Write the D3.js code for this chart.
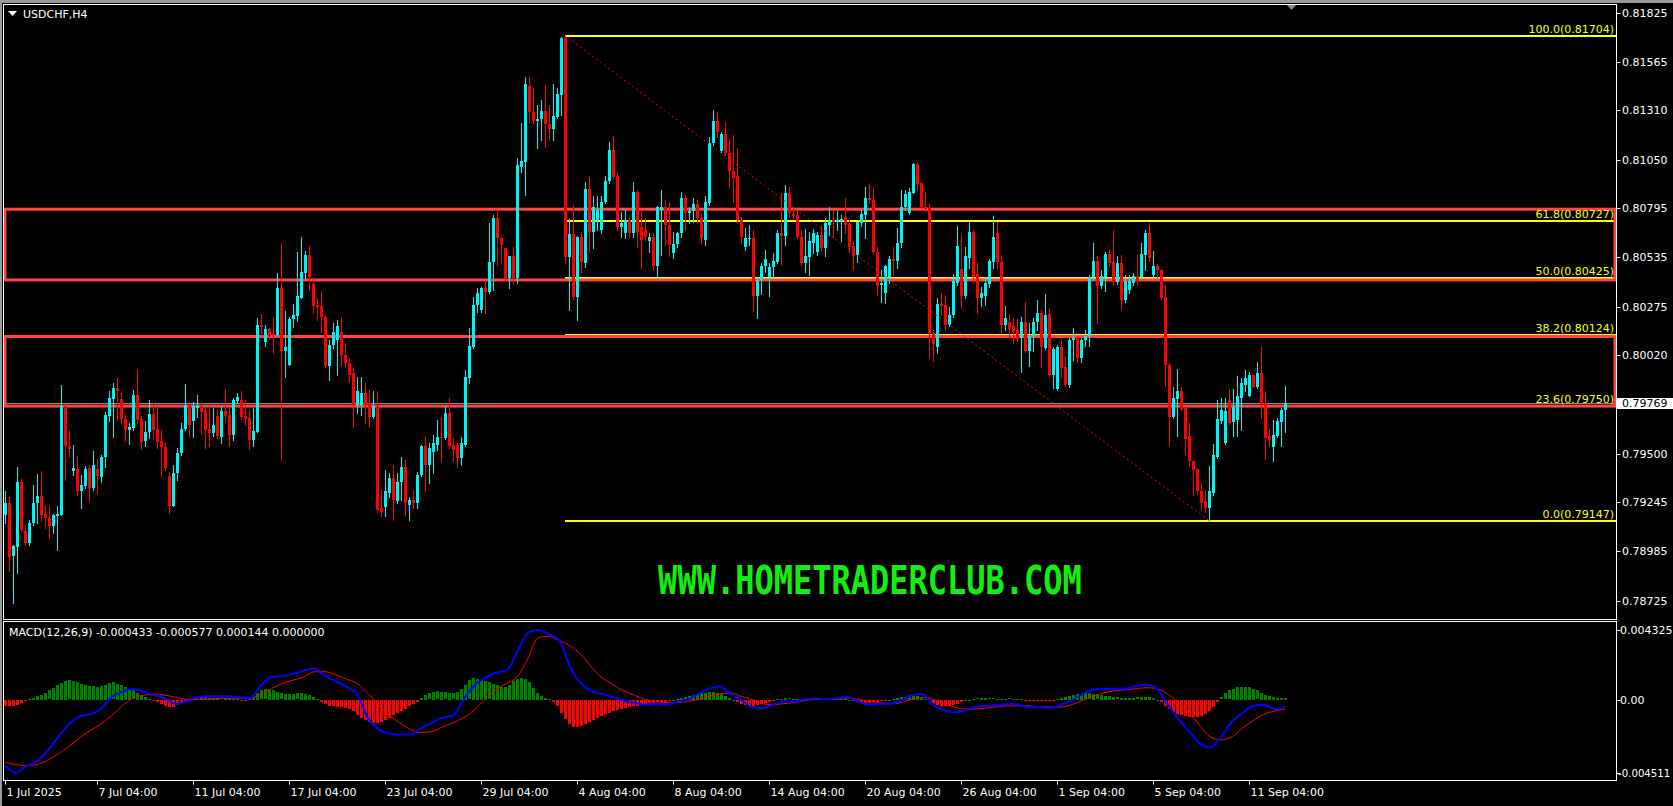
<!DOCTYPE html>
<html><head><meta charset="utf-8">
<script src="https://cdn.jsdelivr.net/npm/d3@7"></script>
<style>
html,body{margin:0;padding:0;background:#000;overflow:hidden}
svg{display:block}
text{font-family:"DejaVu Sans",sans-serif;font-size:11px}
</style>
</head><body>
<svg id="c" width="1673" height="806"></svg>
<script>
// ---------------- DATA ----------------
const symbolTitle = "USDCHF,H4";
const openP = [
0.79178,0.79239,0.78962,0.79007,0.79350,0.79093,0.79028,0.79134,0.79239,0.79278,
0.79183,0.79160,0.79120,0.79173,0.79178,0.79749,0.79541,0.79411,0.79420,0.79301,
0.79332,0.79427,0.79318,0.79420,0.79375,0.79480,0.79701,0.79789,0.79847,0.79789,
0.79684,0.79626,0.79638,0.79810,0.79684,0.79568,0.79613,0.79710,0.79629,0.79568,
0.79535,0.79380,0.79225,0.79397,0.79503,0.79631,0.79763,0.79675,0.79740,0.79749,
0.79726,0.79631,0.79608,0.79700,0.79587,0.79726,0.79705,0.79599,0.79779,0.79784,
0.79700,0.79687,0.79573,0.79617,0.80179,0.80091,0.80158,0.80130,0.80127,0.80373,
0.80039,0.79968,0.80209,0.80227,0.80323,0.80452,0.80548,0.80394,0.80285,0.80279,
0.80220,0.79960,0.80074,0.80100,0.80139,0.80021,0.79977,0.79924,0.79757,0.79757,
0.79819,0.79766,0.79696,0.79752,0.79213,0.79221,0.79292,0.79371,0.79248,0.79353,
0.79432,0.79230,0.79257,0.79239,0.79388,0.79538,0.79441,0.79511,0.79546,0.79590,
0.79582,0.79713,0.79546,0.79546,0.79476,0.79546,0.79898,0.80065,0.80284,0.80258,
0.80376,0.80355,0.80509,0.80741,0.80639,0.80583,0.80425,0.80544,0.80425,0.81014,
0.81040,0.81440,0.81304,0.81256,0.81263,0.81309,0.81239,0.81214,0.81274,0.81391,
0.81699,0.80539,0.80659,0.80328,0.80641,0.80508,0.80894,0.80671,0.80733,0.80680,
0.80829,0.80940,0.81101,0.80966,0.80697,0.80666,0.80733,0.80662,0.80878,0.80697,
0.80680,0.80624,0.80645,0.80487,0.80785,0.80800,0.80706,0.80557,0.80606,0.80666,
0.80850,0.80768,0.80782,0.80817,0.80742,0.80627,0.80821,0.81137,0.81255,0.81096,
0.81186,0.81084,0.80988,0.80965,0.80733,0.80592,0.80633,0.80636,0.80329,0.80417,
0.80490,0.80434,0.80482,0.80513,0.80663,0.80648,0.80870,0.80764,0.80759,0.80645,
0.80508,0.80536,0.80613,0.80561,0.80654,0.80583,0.80706,0.80733,0.80719,0.80724,
0.80750,0.80712,0.80596,0.80548,0.80715,0.80759,0.80850,0.80835,0.80561,0.80387,
0.80346,0.80434,0.80525,0.80518,0.80610,0.80803,0.80771,0.80877,0.81028,0.80926,
0.80800,0.80794,0.80135,0.80060,0.80290,0.80285,0.80179,0.80232,0.80399,0.80473,
0.80332,0.80531,0.80671,0.80448,0.80320,0.80332,0.80396,0.80513,0.80666,0.80513,
0.80179,0.80192,0.80171,0.80150,0.80109,0.80195,0.80039,0.80118,0.80192,0.80241,
0.80056,0.80237,0.79916,0.79840,0.80065,0.79956,0.79863,0.80097,0.80109,0.80007,
0.80100,0.80118,0.80431,0.80518,0.80385,0.80431,0.80554,0.80513,0.80403,0.80508,
0.80311,0.80364,0.80399,0.80438,0.80431,0.80548,0.80666,0.80443,0.80490,0.80469,
0.80325,0.79969,0.79696,0.79788,0.79828,0.79740,0.79591,0.79459,0.79419,0.79301,
0.79248,0.79213,0.79292,0.79485,0.79675,0.79556,0.79781,0.79665,0.79679,0.79793,
0.79863,0.79805,0.79916,0.79854,0.79928,0.79767,0.79594,0.79535,0.79594,0.79665,
0.79728];
const highP = [
0.79301,0.79274,0.79020,0.79429,0.79366,0.79125,0.79151,0.79336,0.79392,0.79410,
0.79222,0.79225,0.79183,0.79222,0.79863,0.79749,0.79626,0.79547,0.79489,0.79389,
0.79433,0.79438,0.79512,0.79473,0.79494,0.79722,0.79828,0.79872,0.79898,0.79819,
0.79705,0.79661,0.79837,0.79942,0.79701,0.79670,0.79784,0.79766,0.79749,0.79626,
0.79556,0.79401,0.79441,0.79529,0.79661,0.79868,0.79770,0.79775,0.79810,0.79775,
0.79740,0.79749,0.79740,0.79731,0.79749,0.79842,0.79740,0.79793,0.79819,0.79828,
0.79784,0.79731,0.79740,0.80214,0.80237,0.80176,0.80162,0.80223,0.80455,0.80613,
0.80250,0.80220,0.80290,0.80561,0.80641,0.80571,0.80596,0.80431,0.80315,0.80358,
0.80227,0.80100,0.80188,0.80205,0.80220,0.80082,0.80003,0.79959,0.79907,0.79907,
0.79872,0.79836,0.79828,0.79828,0.79309,0.79415,0.79397,0.79441,0.79397,0.79485,
0.79467,0.79274,0.79309,0.79406,0.79546,0.79591,0.79555,0.79599,0.79678,0.79696,
0.79749,0.79793,0.79582,0.79555,0.79590,0.79942,0.80161,0.80328,0.80372,0.80381,
0.80416,0.80715,0.80759,0.80785,0.80645,0.80583,0.80544,0.80589,0.81057,0.81242,
0.81488,0.81488,0.81427,0.81339,0.81365,0.81444,0.81339,0.81449,0.81427,0.81699,
0.81704,0.80736,0.80812,0.80648,0.80671,0.80935,0.80964,0.80856,0.80859,0.80856,
0.80964,0.81145,0.81175,0.80987,0.80776,0.80785,0.80750,0.80931,0.80891,0.80785,
0.80741,0.80662,0.80662,0.80807,0.80891,0.80838,0.80829,0.80671,0.80671,0.80882,
0.80865,0.80803,0.80847,0.80838,0.80764,0.80856,0.81172,0.81313,0.81299,0.81198,
0.81251,0.81154,0.81181,0.81111,0.80750,0.80689,0.80706,0.80680,0.80434,0.80504,
0.80575,0.80504,0.80557,0.80680,0.80873,0.80917,0.80908,0.80803,0.80777,0.80680,
0.80684,0.80671,0.80684,0.80671,0.80701,0.80742,0.80803,0.80777,0.80777,0.80759,
0.80847,0.80733,0.80619,0.80724,0.80785,0.80908,0.80923,0.80908,0.80592,0.80469,
0.80496,0.80540,0.80592,0.80689,0.80891,0.80891,0.80900,0.81035,0.81035,0.80935,
0.80882,0.80821,0.80150,0.80320,0.80346,0.80337,0.80276,0.80448,0.80701,0.80659,
0.80592,0.80719,0.80677,0.80513,0.80381,0.80434,0.80526,0.80754,0.80724,0.80548,
0.80280,0.80237,0.80215,0.80209,0.80220,0.80302,0.80188,0.80215,0.80311,0.80258,
0.80343,0.80267,0.80065,0.80074,0.80100,0.80016,0.80109,0.80162,0.80118,0.80109,
0.80153,0.80443,0.80610,0.80540,0.80469,0.80561,0.80578,0.80677,0.80543,0.80548,
0.80443,0.80443,0.80452,0.80548,0.80610,0.80680,0.80715,0.80571,0.80501,0.80473,
0.80390,0.79977,0.79854,0.79946,0.79854,0.79745,0.79661,0.79464,0.79424,0.79345,
0.79310,0.79436,0.79552,0.79784,0.79793,0.79793,0.79840,0.79840,0.79911,0.79898,
0.79942,0.79933,0.79916,0.79986,0.80069,0.79828,0.79630,0.79679,0.79687,0.79740,
0.79858];
const lowP = [
0.79134,0.78879,0.78712,0.78870,0.79090,0.79020,0.79020,0.79125,0.79134,0.79143,
0.79107,0.79055,0.79081,0.78993,0.79178,0.79362,0.79489,0.79389,0.79283,0.79213,
0.79318,0.79253,0.79310,0.79292,0.79353,0.79429,0.79675,0.79587,0.79679,0.79661,
0.79568,0.79552,0.79626,0.79661,0.79524,0.79538,0.79582,0.79577,0.79529,0.79383,
0.79415,0.79187,0.79222,0.79359,0.79494,0.79626,0.79591,0.79587,0.79696,0.79605,
0.79529,0.79538,0.79591,0.79582,0.79556,0.79675,0.79543,0.79573,0.79766,0.79682,
0.79649,0.79526,0.79543,0.79617,0.80127,0.80069,0.80104,0.80030,0.80127,0.79468,
0.79903,0.79968,0.80170,0.80197,0.80320,0.80425,0.80364,0.80241,0.80206,0.80141,
0.79956,0.79889,0.80056,0.79916,0.79968,0.79959,0.79880,0.79643,0.79713,0.79704,
0.79661,0.79643,0.79687,0.79195,0.79169,0.79169,0.79274,0.79151,0.79239,0.79257,
0.79178,0.79151,0.79213,0.79213,0.79380,0.79301,0.79344,0.79397,0.79520,0.79459,
0.79577,0.79529,0.79459,0.79432,0.79441,0.79538,0.79872,0.80056,0.80249,0.80249,
0.80241,0.80346,0.80364,0.80495,0.80504,0.80416,0.80372,0.80395,0.80399,0.80987,
0.80864,0.81251,0.81242,0.81110,0.81154,0.81119,0.81154,0.81154,0.81268,0.81286,
0.80504,0.80258,0.80314,0.80205,0.80460,0.80483,0.80566,0.80583,0.80680,0.80662,
0.80820,0.80929,0.80952,0.80680,0.80645,0.80636,0.80645,0.80645,0.80592,0.80478,
0.80627,0.80566,0.80469,0.80434,0.80548,0.80601,0.80540,0.80531,0.80592,0.80645,
0.80677,0.80715,0.80724,0.80715,0.80610,0.80601,0.80812,0.81128,0.81172,0.81093,
0.81075,0.80908,0.80829,0.80724,0.80610,0.80575,0.80601,0.80250,0.80215,0.80343,
0.80460,0.80329,0.80434,0.80504,0.80496,0.80601,0.80750,0.80742,0.80636,0.80496,
0.80460,0.80443,0.80557,0.80548,0.80575,0.80540,0.80654,0.80645,0.80680,0.80619,
0.80663,0.80566,0.80466,0.80513,0.80698,0.80636,0.80821,0.80557,0.80337,0.80302,
0.80294,0.80402,0.80443,0.80478,0.80592,0.80785,0.80764,0.80873,0.80891,0.80794,
0.80777,0.80012,0.79991,0.80030,0.80232,0.80153,0.80171,0.80223,0.80390,0.80267,
0.80320,0.80480,0.80399,0.80241,0.80280,0.80285,0.80381,0.80478,0.80478,0.80144,
0.80153,0.80109,0.80086,0.80092,0.79933,0.80034,0.79963,0.80039,0.80153,0.79956,
0.80051,0.79911,0.79846,0.79837,0.79907,0.79858,0.79854,0.79995,0.79981,0.79986,
0.80069,0.80069,0.80417,0.80188,0.80373,0.80360,0.80490,0.80390,0.80396,0.80262,
0.80302,0.80346,0.80390,0.80390,0.80425,0.80469,0.80518,0.80431,0.80431,0.80315,
0.79858,0.79547,0.79687,0.79594,0.79731,0.79494,0.79433,0.79283,0.79289,0.79208,
0.79195,0.79147,0.79283,0.79477,0.79661,0.79552,0.79658,0.79591,0.79591,0.79626,
0.79833,0.79805,0.79851,0.79846,0.79687,0.79471,0.79538,0.79459,0.79587,0.79542,
0.79617];
const closeP = [
0.79239,0.78958,0.79011,0.79350,0.79099,0.79028,0.79134,0.79239,0.79278,0.79178,
0.79160,0.79120,0.79178,0.79183,0.79749,0.79538,0.79526,0.79427,0.79301,0.79336,
0.79420,0.79318,0.79441,0.79380,0.79485,0.79705,0.79793,0.79847,0.79828,0.79684,
0.79626,0.79643,0.79810,0.79679,0.79564,0.79617,0.79710,0.79626,0.79561,0.79533,
0.79424,0.79225,0.79397,0.79503,0.79631,0.79758,0.79652,0.79749,0.79749,0.79722,
0.79626,0.79608,0.79652,0.79591,0.79726,0.79701,0.79599,0.79784,0.79798,0.79696,
0.79684,0.79573,0.79621,0.80179,0.80170,0.80158,0.80121,0.80125,0.80373,0.80039,
0.80065,0.80209,0.80232,0.80332,0.80460,0.80548,0.80431,0.80279,0.80276,0.80220,
0.79960,0.80074,0.80144,0.80174,0.80021,0.79977,0.79916,0.79757,0.79828,0.79819,
0.79757,0.79696,0.79749,0.79204,0.79195,0.79301,0.79371,0.79257,0.79353,0.79432,
0.79239,0.79257,0.79239,0.79388,0.79538,0.79441,0.79529,0.79555,0.79590,0.79582,
0.79713,0.79538,0.79520,0.79476,0.79555,0.79907,0.80068,0.80284,0.80346,0.80376,
0.80355,0.80513,0.80745,0.80636,0.80601,0.80425,0.80544,0.80425,0.81022,0.81043,
0.81449,0.81304,0.81256,0.81263,0.81309,0.81239,0.81210,0.81281,0.81397,0.81690,
0.80539,0.80659,0.80328,0.80645,0.80513,0.80894,0.80671,0.80803,0.80785,0.80829,
0.80940,0.81101,0.80961,0.80697,0.80718,0.80733,0.80662,0.80878,0.80671,0.80627,
0.80645,0.80645,0.80487,0.80803,0.80800,0.80706,0.80601,0.80606,0.80662,0.80850,
0.80768,0.80782,0.80817,0.80742,0.80636,0.80829,0.81137,0.81255,0.81198,0.81186,
0.81084,0.80988,0.80952,0.80733,0.80645,0.80636,0.80636,0.80329,0.80417,0.80490,
0.80525,0.80483,0.80517,0.80663,0.80648,0.80873,0.80768,0.80754,0.80640,0.80508,
0.80543,0.80619,0.80662,0.80654,0.80583,0.80715,0.80733,0.80719,0.80733,0.80736,
0.80706,0.80589,0.80543,0.80719,0.80764,0.80850,0.80835,0.80561,0.80385,0.80402,
0.80490,0.80525,0.80518,0.80610,0.80803,0.80870,0.80882,0.81028,0.80923,0.80800,
0.80789,0.80135,0.80080,0.80290,0.80279,0.80179,0.80232,0.80413,0.80596,0.80332,
0.80540,0.80671,0.80434,0.80320,0.80346,0.80399,0.80518,0.80640,0.80513,0.80179,
0.80218,0.80157,0.80144,0.80104,0.80195,0.80039,0.80118,0.80195,0.80241,0.80060,
0.80232,0.79916,0.80051,0.80065,0.79951,0.79863,0.80100,0.80109,0.80007,0.80100,
0.80118,0.80431,0.80518,0.80385,0.80438,0.80554,0.80508,0.80403,0.80508,0.80311,
0.80408,0.80413,0.80438,0.80408,0.80554,0.80666,0.80531,0.80490,0.80469,0.80320,
0.79969,0.79696,0.79793,0.79828,0.79735,0.79577,0.79459,0.79415,0.79301,0.79239,
0.79213,0.79301,0.79494,0.79682,0.79731,0.79723,0.79661,0.79745,0.79802,0.79872,
0.79898,0.79916,0.79854,0.79928,0.79763,0.79582,0.79570,0.79600,0.79670,0.79731,
0.79769];

// MACD(12,26,9): main & signal read at 121 evenly spaced points across the bars, histogram per bar
const macdMain = [
-0.00407,-0.00451,-0.00410,-0.00380,-0.00314,-0.00229,-0.00150,-0.00103,-0.00090,-0.00057,
0.00016,0.00049,0.00069,0.00049,0.00029,0.00010,-0.00024,-0.00010,0.00016,0.00022,
0.00022,0.00022,0.00016,0.00010,0.00089,0.00141,0.00148,0.00161,0.00181,0.00194,
0.00148,0.00115,0.00082,0.00036,-0.00110,-0.00182,-0.00209,-0.00215,-0.00215,-0.00176,
-0.00142,-0.00110,-0.00097,0.00003,0.00089,0.00135,0.00168,0.00181,0.00294,0.00412,
0.004325,0.00406,0.00366,0.00201,0.00102,0.00056,0.00036,0.00016,-0.00004,-0.00017,
-0.00030,-0.00024,-0.00030,-0.00010,0.00003,0.00036,0.00069,0.00082,0.00036,0.00003,
-0.00044,-0.00050,-0.00030,-0.00010,-0.00010,0.00003,0.00010,0.00003,0.00010,0.00016,
-0.00010,-0.00030,-0.00024,-0.00024,-0.00004,0.00029,0.00036,-0.00030,-0.00063,-0.00077,
-0.00063,-0.00044,-0.00037,-0.00037,-0.00024,-0.00030,-0.00044,-0.00044,-0.00050,-0.00030,
-0.00004,0.00036,0.00062,0.00069,0.00069,0.00069,0.00082,0.00095,0.00069,-0.00030,
-0.00116,-0.00195,-0.00268,-0.00295,-0.00229,-0.00136,-0.00083,-0.00037,-0.00030,-0.00057,
-0.000433];
const macdSignal = [
-0.00387,-0.00400,-0.00407,-0.00400,-0.00374,-0.00334,-0.00288,-0.00235,-0.00189,-0.00150,
-0.00097,-0.00037,0.00010,0.00029,0.00036,0.00029,0.00016,0.00003,0.00003,0.00003,
0.00010,0.00010,0.00010,0.00010,0.00036,0.00069,0.00102,0.00122,0.00141,0.00174,
0.00174,0.00155,0.00128,0.00102,0.00042,-0.00030,-0.00097,-0.00142,-0.00182,-0.00202,
-0.00196,-0.00169,-0.00142,-0.00110,-0.00063,0.00003,0.00062,0.00102,0.00141,0.00254,
0.00386,0.00393,0.00366,0.00333,0.00280,0.00201,0.00135,0.00095,0.00056,0.00029,
0.00003,-0.00010,-0.00017,-0.00017,-0.00010,0.00003,0.00022,0.00036,0.00042,0.00022,
0.00003,-0.00024,-0.00030,-0.00024,-0.00017,-0.00004,0.00003,0.00003,0.00003,0.00010,
0.00003,-0.00010,-0.00017,-0.00024,-0.00017,0.00003,0.00016,0.00003,-0.00024,-0.00044,
-0.00057,-0.00057,-0.00050,-0.00044,-0.00037,-0.00037,-0.00037,-0.00044,-0.00044,-0.00044,
-0.00030,-0.00004,0.00022,0.00042,0.00056,0.00062,0.00069,0.00075,0.00069,0.00036,
-0.00017,-0.00083,-0.00156,-0.00229,-0.00248,-0.00229,-0.00176,-0.00130,-0.00090,-0.00070,
-0.000577];
const macdHist = [
-0.00035,-0.00040,-0.00038,-0.00030,-0.00018,-0.00008,0.00005,0.00012,0.00022,0.00032,
0.00045,0.00058,0.00072,0.00090,0.00105,0.00115,0.00120,0.00118,0.00110,0.00100,
0.00092,0.00088,0.00085,0.00082,0.00085,0.00095,0.00105,0.00108,0.00100,0.00090,
0.00080,0.00068,0.00058,0.00045,0.00030,0.00018,0.00008,-0.00005,-0.00015,-0.00025,
-0.00035,-0.00045,-0.00042,-0.00030,-0.00015,-0.00005,0.00006,0.00012,0.00015,0.00016,
0.00015,0.00014,0.00012,0.00010,0.00009,0.00010,0.00012,0.00008,0.00004,-0.00004,
-0.00008,0.00005,0.00025,0.00045,0.00058,0.00065,0.00068,0.00062,0.00050,0.00040,
0.00036,0.00035,0.00036,0.00040,0.00042,0.00038,0.00030,0.00018,0.00008,-0.00010,
-0.00025,-0.00035,-0.00040,-0.00042,-0.00046,-0.00050,-0.00058,-0.00070,-0.00090,-0.00110,
-0.00125,-0.00135,-0.00140,-0.00145,-0.00138,-0.00125,-0.00110,-0.00095,-0.00080,-0.00068,
-0.00055,-0.00040,-0.00025,-0.00010,0.00012,0.00028,0.00040,0.00048,0.00052,0.00050,
0.00046,0.00042,0.00040,0.00048,0.00070,0.00095,0.00120,0.00135,0.00132,0.00125,
0.00118,0.00108,0.00098,0.00090,0.00082,0.00080,0.00095,0.00115,0.00130,0.00135,
0.00130,0.00110,0.00075,0.00045,0.00025,0.00012,0.00004,-0.00010,-0.00040,-0.00080,
-0.00120,-0.00150,-0.00165,-0.00168,-0.00160,-0.00148,-0.00135,-0.00122,-0.00110,-0.00098,
-0.00088,-0.00078,-0.00070,-0.00062,-0.00055,-0.00050,-0.00045,-0.00040,-0.00035,-0.00030,
-0.00025,-0.00020,-0.00017,-0.00014,-0.00012,-0.00010,-0.00005,0.00002,0.00008,0.00014,
0.00020,0.00026,0.00032,0.00038,0.00042,0.00045,0.00048,0.00048,0.00044,0.00036,
0.00025,0.00012,0.00000,-0.00012,-0.00024,-0.00032,-0.00036,-0.00036,-0.00032,-0.00026,
-0.00018,-0.00010,-0.00003,0.00004,0.00008,0.00010,0.00009,0.00007,0.00006,0.00005,
0.00006,0.00007,0.00008,0.00007,0.00005,0.00004,0.00005,0.00006,0.00007,0.00007,
0.00005,0.00002,-0.00004,-0.00010,-0.00015,-0.00018,-0.00018,-0.00015,-0.00010,-0.00006,
-0.00002,0.00002,0.00006,0.00010,0.00015,0.00019,0.00022,0.00024,0.00022,0.00016,
0.00006,-0.00008,-0.00020,-0.00030,-0.00036,-0.00038,-0.00036,-0.00030,-0.00022,-0.00014,
-0.00006,0.00002,0.00006,0.00009,0.00010,0.00010,0.00009,0.00009,0.00008,0.00007,
0.00008,0.00009,0.00008,0.00006,0.00003,-0.00002,-0.00005,-0.00006,-0.00005,-0.00004,
-0.00003,-0.00004,-0.00002,0.00004,0.00010,0.00017,0.00024,0.00030,0.00035,0.00038,
0.00040,0.00040,0.00038,0.00034,0.00030,0.00026,0.00022,0.00018,0.00015,0.00013,
0.00012,0.00012,0.00013,0.00015,0.00017,0.00018,0.00016,0.00010,0.00002,-0.00015,
-0.00035,-0.00055,-0.00072,-0.00085,-0.00095,-0.00102,-0.00106,-0.00108,-0.00106,-0.00100,
-0.00088,-0.00070,-0.00045,-0.00015,0.00015,0.00040,0.00058,0.00070,0.00078,0.00082,
0.00082,0.00078,0.00070,0.00058,0.00045,0.00032,0.00022,0.00016,0.00013,0.00013,
0.000144];
const macdLabel = "MACD(12,26,9) -0.000433 -0.000577 0.000144 0.000000";

const priceTicks = [0.81825,0.81565,0.81310,0.81050,0.80795,0.80535,0.80275,0.80020,0.79500,0.79245,0.78985,0.78725];
const macdTicks = [0.004325,0,-0.004511];
const macdTickLabels = ["0.004325","0.00","-0.004511"];
const timeTickBars = [0,23,47,71,95,119,143,167,191,215,239,263,287,311];
const timeTickLabels = ["1 Jul 2025","7 Jul 04:00","11 Jul 04:00","17 Jul 04:00","23 Jul 04:00","29 Jul 04:00",
  "4 Aug 04:00","8 Aug 04:00","14 Aug 04:00","20 Aug 04:00","26 Aug 04:00","1 Sep 04:00","5 Sep 04:00","11 Sep 04:00"];

const fibLevels = [100.0,61.8,50.0,38.2,23.6,0.0];
const fibPrices = [0.81704,0.80727,0.80425,0.80124,0.79750,0.79147];
const fibStartBar = 140, fibEndBar = 301;
const zoneTop = [0.80789,0.80118];
const zoneBottom = [0.80416,0.79751];
const lastPrice = 0.79769;
const watermark = "WWW.HOMETRADERCLUB.COM";

// ---------------- LAYOUT ----------------
const svg = d3.select("#c");
const W = 1673, H = 806;
const L = 3.5, R = 1616.5, mainTop = 4.5, mainBot = 619.5, macdTop = 621.5, macdBot = 780.5;
const nBars = closeP.length;
const x = d3.scaleLinear().domain([0, 320]).range([5, 1285]);
const y = d3.scaleLinear().domain([0.78725, 0.81825]).range([600.7, 12.7]);
const ym = d3.scaleLinear().domain([-0.004511, 0.004325]).range([772.7, 630]);

const BULL = "#00f4f4", BEAR = "#ff0000", ZONE = "#ff4444", FIB = "#ffff00";

svg.append("rect").attr("width", W).attr("height", H).attr("fill", "#000");
// window frame
svg.append("rect").attr("x",0).attr("y",0).attr("width",W).attr("height",3).attr("fill","#9a9a9a");
svg.append("rect").attr("x",0).attr("y",0).attr("width",2).attr("height",H).attr("fill","#9a9a9a");

const defs = svg.append("defs");
defs.append("clipPath").attr("id","mainClip").append("rect")
  .attr("x",L).attr("y",mainTop).attr("width",R-L).attr("height",mainBot-mainTop);
defs.append("clipPath").attr("id","macdClip").append("rect")
  .attr("x",L).attr("y",macdTop).attr("width",R-L).attr("height",macdBot-macdTop);

const main = svg.append("g").attr("clip-path","url(#mainClip)");

// fibonacci levels
fibPrices.forEach((p,i) => {
  const yy = Math.round(y(p));
  main.append("line").attr("x1", x(fibStartBar)).attr("x2", R)
    .attr("y1", yy).attr("y2", yy).attr("stroke", FIB).attr("stroke-width", 2);
});

// current price line
main.append("line").attr("x1",L).attr("x2",R)
  .attr("y1",Math.round(y(lastPrice))+0.5).attr("y2",Math.round(y(lastPrice))+0.5)
  .attr("stroke","#8090a0").attr("stroke-width",1);

// zones (rectangles)
zoneTop.forEach((t,i) => {
  main.append("rect")
    .attr("x", L + 1.5).attr("y", y(t))
    .attr("width", R - L - 3).attr("height", y(zoneBottom[i]) - y(t))
    .attr("fill","none").attr("stroke",ZONE).attr("stroke-width",3);
});

// candles
const cg = main.append("g").attr("shape-rendering","crispEdges");
for (let k = 0; k < nBars; k++) {
  const o = openP[k], h = highP[k], l = lowP[k], c = closeP[k];
  const col = c >= o ? BULL : BEAR;
  const cx = Math.round(x(k));
  const yh = Math.round(y(h)), yl = Math.round(y(l));
  cg.append("rect").attr("x",cx).attr("y",yh).attr("width",1).attr("height",Math.max(1,yl-yh+1)).attr("fill",col);
  const yt = Math.round(y(Math.max(o,c))), yb = Math.round(y(Math.min(o,c)));
  cg.append("rect").attr("x",cx-1).attr("y",yt).attr("width",3).attr("height",Math.max(1,yb-yt)).attr("fill",col);
}

// fib trend line (dashed)
main.append("line")
  .attr("x1", x(fibStartBar)+3).attr("y1", y(fibPrices[0])+2)
  .attr("x2", x(fibEndBar)).attr("y2", y(fibPrices[5]))
  .attr("stroke","#ff0000").attr("stroke-width",1).attr("stroke-dasharray","2,3");

// fib labels
fibPrices.forEach((p,i) => {
  svg.append("text").attr("x", 1614).attr("y", Math.round(y(p)) - 3)
    .attr("text-anchor","end").attr("fill",FIB)
    .text(fibLevels[i].toFixed(1) + "(" + p.toFixed(5) + ")");
});

// watermark
svg.append("text")
  .attr("transform","translate(870,594) scale(1,1.22)")
  .attr("text-anchor","middle")
  .style("font-family","'DejaVu Sans Mono',monospace").style("font-size","32px").style("font-weight","bold")
  .attr("fill","#10f010")
  .text(watermark);

// title
svg.append("path").attr("d","M8,11 L17,11 L12.5,16 Z").attr("fill","#fff");
svg.append("text").attr("x",23).attr("y",18).attr("fill","#fff").text(symbolTitle);
// chart-shift marker
svg.append("path").attr("d","M1286,4 L1297,4 L1291.5,10 Z").attr("fill","#8a8a9a");

// ---------------- MACD ----------------
const mg = svg.append("g").attr("clip-path","url(#macdClip)");
const hg = mg.append("g").attr("shape-rendering","crispEdges");
const y0 = ym(0);
macdHist.forEach((v,k) => {
  if (k >= nBars) return;
  const cx = Math.round(x(k));
  const yv = ym(v);
  hg.append("rect").attr("x",cx-1).attr("width",3)
    .attr("y", Math.round(Math.min(y0,yv))).attr("height", Math.max(1, Math.round(Math.abs(yv-y0))))
    .attr("fill", v >= 0 ? "#008000" : "#ff0000");
});
const sampleBar = j => j * 320 / (macdMain.length - 1);
const lineGen = d3.line().x((d,j) => x(sampleBar(j))).y(d => ym(d)).curve(d3.curveMonotoneX);
mg.append("path").datum(macdSignal).attr("d",lineGen).attr("fill","none").attr("stroke","#ff0000").attr("stroke-width",1);
mg.append("path").datum(macdMain).attr("d",lineGen).attr("fill","none").attr("stroke","#0000ff").attr("stroke-width",2);

svg.append("text").attr("x",9).attr("y",636).attr("fill","#fff").text(macdLabel);

// ---------------- FRAMES & AXES ----------------
svg.append("rect").attr("x",L).attr("y",mainTop).attr("width",R-L).attr("height",mainBot-mainTop)
  .attr("fill","none").attr("stroke","#fff").attr("stroke-width",1);
svg.append("rect").attr("x",L).attr("y",macdTop).attr("width",R-L).attr("height",macdBot-macdTop)
  .attr("fill","none").attr("stroke","#fff").attr("stroke-width",1);

priceTicks.forEach(p => {
  const yy = Math.round(y(p)) + 0.5;
  svg.append("line").attr("x1",R).attr("x2",R+4).attr("y1",yy).attr("y2",yy).attr("stroke","#fff");
  svg.append("text").attr("x",1622).attr("y",yy).attr("dy","0.35em").attr("fill","#fff").text(p.toFixed(5));
});
// last price label
const ly = Math.round(y(lastPrice));
svg.append("rect").attr("x",R+0.5).attr("y",ly-5).attr("width",W-R).attr("height",11).attr("fill","#fff");
svg.append("text").attr("x",1622).attr("y",ly+0.5).attr("dy","0.35em").attr("fill","#000").text(lastPrice.toFixed(5));

macdTicks.forEach((v,i) => {
  const yy = Math.round(ym(v)) + 0.5;
  svg.append("line").attr("x1",R).attr("x2",R+4).attr("y1",yy).attr("y2",yy).attr("stroke","#fff");
  const neg = macdTickLabels[i].startsWith("-");
  svg.append("text").attr("x", neg ? 1618 : 1620).attr("y",yy).attr("dy","0.35em").attr("fill","#fff")
    .style("font-size", neg ? "10.2px" : "11px").text(macdTickLabels[i]);
});

timeTickBars.forEach((b,i) => {
  const xx = Math.round(x(b)) + 0.5;
  svg.append("line").attr("x1",xx).attr("x2",xx).attr("y1",macdBot).attr("y2",macdBot+4).attr("stroke","#fff");
  svg.append("text").attr("x",xx+1).attr("y",796).attr("fill","#fff").text(timeTickLabels[i]);
});
</script>
</body></html>
